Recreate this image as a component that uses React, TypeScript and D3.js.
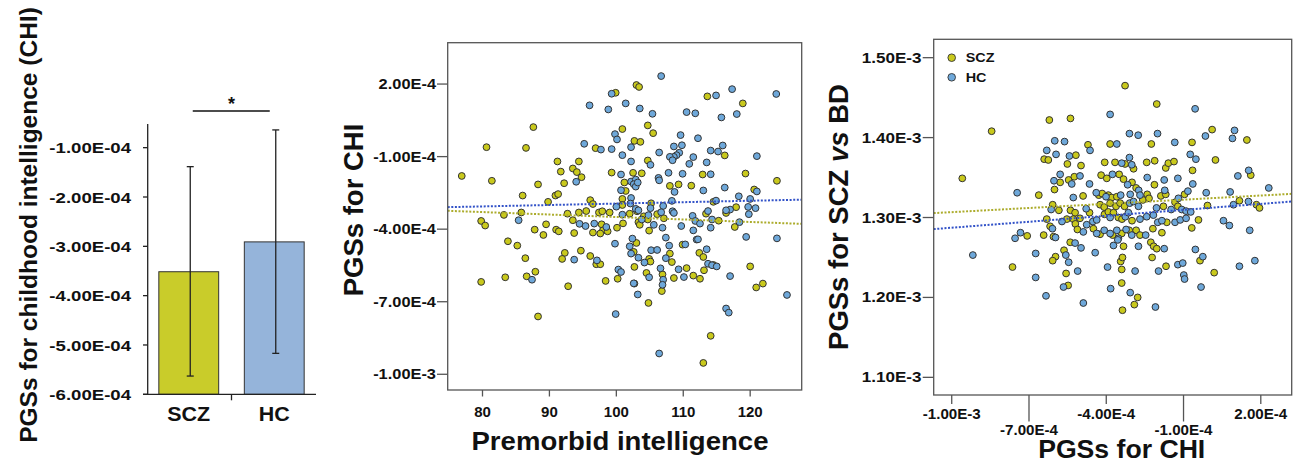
import React from "react";
import * as d3 from "d3";

// ---------- Bar chart data (PGS for CHI, x1e-4) ----------
const barGroups = ["SCZ", "HC"];
const barMeans = [-3.515, -2.91];
const barErrLow = [-5.63, -5.17];
const barErrHigh = [-1.385, -0.64];
const barTicks = [-1, -2, -3, -4, -5, -6];
const barTickLabels = ["-1.00E-04", "-2.00E-04", "-3.00E-04", "-4.00E-04", "-5.00E-04", "-6.00E-04"];

// ---------- Middle scatter: premorbid intelligence vs PGS CHI (x1e-4) ----------
const iqScz: number[][] = [
  [103.0,1.96],[103.4,1.88],[113.6,1.49],[99.9,1.64],[118.9,1.20],[87.6,0.22],[104.7,0.29],[100.9,0.14],[105.5,-0.03],[102.7,-0.35],
  [103.6,-0.39],[80.6,-0.61],[86.5,-0.64],[96.9,-0.65],[116.2,-0.95],[104.7,-1.16],[91.2,-1.20],[93.5,-1.49],[94.1,-1.64],[94.4,-1.20],
  [91.7,-1.62],[76.9,-1.80],[99.3,-1.66],[102.5,-1.67],[103.8,-1.69],[112.9,-1.74],[119.3,-1.70],[81.4,-2.00],[88.3,-2.15],[92.2,-2.10],
  [94.8,-1.85],[101.2,-2.07],[109.3,-2.15],[108.0,-2.21],[111.2,-2.20],[124.0,-2.00],[120.6,-2.36],[101.4,-2.42],[86.0,-2.61],[90.9,-2.61],
  [91.3,-2.55],[100.9,-2.75],[89.8,-2.87],[96.1,-2.80],[96.5,-2.96],[105.2,-2.93],[114.5,-2.87],[100.9,-3.00],[117.9,-3.09],[85.8,-3.31],
  [83.2,-3.41],[92.7,-3.36],[94.4,-3.31],[95.5,-3.25],[97.4,-3.31],[97.9,-3.26],[99.0,-3.31],[102.0,-3.36],[103.1,-3.26],[104.1,-3.47],
  [106.1,-3.38],[107.1,-3.55],[113.4,-3.36],[116.4,-3.33],[115.3,-3.65],[79.8,-3.66],[80.4,-3.85],[89.5,-3.80],[93.5,-3.63],[97.8,-3.80],
  [98.0,-4.05],[98.7,-4.09],[100.1,-3.94],[101.0,-3.76],[103.3,-3.71],[103.5,-3.82],[104.7,-3.60],[117.7,-3.91],[87.8,-4.02],[91.0,-4.02],
  [91.4,-4.09],[89.1,-4.24],[93.7,-4.16],[96.5,-4.14],[97.6,-4.18],[104.9,-4.06],[109.9,-4.64],[83.8,-4.50],[85.2,-4.68],[103.0,-4.57],
  [86.4,-5.20],[94.7,-4.89],[92.3,-4.98],[91.9,-5.23],[96.1,-5.11],[97.0,-5.45],[97.6,-5.45],[102.6,-4.94],[102.7,-5.56],[104.9,-5.23],
  [105.1,-5.34],[108.0,-5.01],[108.3,-5.36],[112.4,-4.98],[113.0,-5.15],[113.1,-5.70],[114.5,-5.48],[106.9,-5.87],[110.5,-5.61],[120.0,-5.54],
  [79.8,-6.18],[83.4,-5.99],[86.6,-5.95],[87.9,-5.76],[92.8,-6.36],[98.4,-6.14],[100.2,-6.05],[102.7,-6.25],[104.5,-5.81],[106.8,-6.56],
  [108.6,-6.02],[111.5,-5.92],[112.5,-6.05],[120.9,-6.41],[121.9,-6.25],[88.3,-7.61],[104.8,-7.05],[114.1,-8.41],[113.0,-9.53]
];
const iqHc: number[][] = [
  [106.7,2.33],[117.3,1.79],[114.9,1.53],[123.9,1.59],[99.3,1.60],[101.4,1.20],[96.0,1.12],[98.8,0.95],[103.5,0.99],[105.4,0.77],
  [110.5,0.84],[111.8,0.79],[118.0,0.76],[115.7,0.62],[99.8,-0.07],[100.1,-0.29],[109.6,-0.11],[112.2,-0.24],[95.2,-0.47],[97.7,-0.71],
  [99.3,-0.69],[102.2,-0.61],[108.6,-0.58],[109.8,-0.53],[114.1,-0.75],[115.2,-0.79],[115.9,-0.54],[106.4,-0.83],[109.4,-0.84],[109.0,-0.94],
  [108.6,-1.01],[108.0,-1.01],[108.4,-1.15],[111.5,-1.02],[121.0,-0.98],[100.9,-0.94],[105.1,-1.34],[102.2,-1.20],[110.9,-1.30],[113.5,-1.24],
  [100.7,-1.74],[107.8,-1.67],[106.3,-1.88],[106.4,-1.98],[109.9,-1.71],[114.1,-1.73],[94.0,-2.04],[102.2,-2.03],[102.9,-1.95],[102.6,-2.14],
  [102.9,-2.24],[103.2,-2.07],[116.2,-2.28],[113.0,-2.40],[108.7,-2.46],[121.0,-2.44],[100.7,-2.39],[102.2,-2.71],[118.3,-2.64],[108.3,-2.83],
  [114.9,-2.82],[120.0,-2.75],[119.7,-3.08],[120.8,-3.13],[100.0,-3.07],[102.1,-2.94],[102.9,-3.16],[105.1,-3.13],[107.0,-3.04],[117.0,-3.19],
  [116.4,-3.22],[85.4,-3.63],[100.9,-3.40],[103.3,-3.22],[104.8,-3.42],[106.7,-3.30],[108.4,-3.26],[108.6,-3.33],[111.4,-3.45],[113.7,-3.25],
  [114.3,-3.60],[119.8,-3.38],[94.5,-3.78],[95.4,-3.87],[96.7,-3.77],[98.5,-3.91],[103.8,-3.60],[105.6,-3.82],[109.7,-3.87],[111.8,-3.66],
  [112.5,-3.77],[114.1,-3.94],[118.4,-3.71],[106.9,-3.94],[111.5,-4.05],[110.3,-4.63],[112.0,-4.43],[112.2,-4.42],[119.4,-4.32],[99.8,-4.60],
  [102.4,-4.39],[102.0,-4.71],[107.4,-4.35],[107.9,-4.68],[124.0,-4.38],[93.7,-5.26],[97.1,-5.29],[102.2,-5.01],[103.3,-5.18],[105.2,-4.87],
  [106.1,-4.86],[107.4,-5.20],[104.2,-5.38],[113.5,-4.83],[113.7,-5.43],[114.3,-5.49],[115.0,-5.54],[106.6,-5.62],[109.3,-5.66],[100.3,-5.67],
  [100.7,-5.77],[87.4,-6.09],[102.6,-6.24],[104.9,-5.99],[107.0,-6.09],[106.9,-6.30],[110.1,-5.98],[117.0,-5.94],[103.2,-6.70],[99.9,-7.51],
  [116.4,-7.28],[116.8,-7.45],[125.5,-6.72],[106.4,-9.14]
];
const iqDomain = [74.8, 127.7];
const iqChiDomain = [-10.65, 3.71];
const iqTicks = [80, 90, 100, 110, 120];
const iqChiTicks = [2, -1, -4, -7, -10];
const iqChiTickLabels = ["2.00E-4", "-1.00E-4", "-4.00E-4", "-7.00E-4", "-1.00E-3"];
// fit lines: [x0, y0, x1, y1]
const iqFitScz = [74.8, -3.24, 127.7, -3.78];
const iqFitHc = [74.8, -3.09, 127.7, -2.78];

// ---------- Right scatter: PGS CHI (x1e-4) vs PGS SCZ vs BD (x1e-3) ----------
const bdScz: number[][] = [
  [-3.27,1.465],[-2.04,1.442],[-6.21,1.422],[-5.39,1.424],[-8.45,1.408],[0.11,1.410],[1.46,1.397],[-4.71,1.391],[-3.85,1.392],[-2.25,1.392],
  [-0.67,1.394],[-5.18,1.378],[0.24,1.372],[-6.41,1.373],[-6.25,1.372],[-5.51,1.367],[-4.98,1.365],[-4.06,1.369],[-3.66,1.369],[-3.27,1.367],
  [-2.94,1.361],[-2.43,1.369],[-2.12,1.371],[-1.69,1.362],[-1.59,1.368],[-1.37,1.370],[-0.65,1.359],[1.61,1.353],[-5.46,1.347],[-5.24,1.351],
  [-5.79,1.344],[-4.20,1.353],[-3.98,1.349],[-3.50,1.354],[-3.33,1.348],[-3.00,1.344],[-2.13,1.341],[-4.90,1.327],[-6.01,1.335],[-6.62,1.328],
  [-4.29,1.328],[-4.16,1.330],[-3.92,1.328],[-3.79,1.325],[-3.59,1.326],[-2.84,1.337],[-2.41,1.329],[-1.88,1.327],[-1.69,1.329],[-0.96,1.329],
  [-1.33,1.319],[-1.22,1.314],[-6.08,1.316],[-5.84,1.309],[-5.39,1.309],[-5.21,1.306],[-5.02,1.299],[-4.65,1.306],[-4.24,1.316],[-4.08,1.313],
  [-3.85,1.318],[-3.62,1.314],[-3.46,1.318],[-3.29,1.314],[-2.58,1.322],[-2.34,1.324],[-1.78,1.314],[-0.07,1.315],[1.17,1.321],[1.83,1.316],
  [1.95,1.312],[-6.31,1.298],[-6.18,1.289],[-5.53,1.298],[-5.28,1.298],[-5.20,1.292],[-5.12,1.285],[-4.50,1.286],[-4.07,1.304],[-3.92,1.307],
  [-3.72,1.306],[-3.53,1.300],[-3.39,1.298],[-3.00,1.296],[-1.65,1.294],[-0.68,1.287],[-0.42,1.297],[-7.07,1.277],[-6.43,1.278],[-6.05,1.276],
  [-4.24,1.279],[-3.75,1.278],[-3.40,1.280],[-3.11,1.284],[-2.84,1.284],[-2.69,1.278],[-2.19,1.286],[-1.84,1.281],[-2.27,1.269],[-5.40,1.269],
  [-3.33,1.264],[-2.16,1.264],[-2.04,1.261],[-5.64,1.259],[-5.97,1.251],[-6.08,1.246],[-3.44,1.245],[-3.37,1.250],[-2.22,1.250],[-0.36,1.246],
  [-1.68,1.239],[-3.40,1.235],[-7.64,1.238],[-5.56,1.230],[0.19,1.231],[-5.48,1.215],[-3.40,1.218],[-2.78,1.200],[-2.91,1.191],[-3.37,1.184],
  [-9.59,1.349]
];
const bdHc: number[][] = [
  [-0.55,1.436],[-3.85,1.429],[0.98,1.409],[-3.10,1.405],[-2.76,1.403],[-2.01,1.405],[-0.15,1.402],[0.90,1.399],[-6.00,1.396],[-5.62,1.395],
  [-4.63,1.384],[-3.59,1.392],[-1.34,1.394],[-6.31,1.384],[-5.95,1.379],[-5.43,1.377],[-0.74,1.379],[-0.52,1.373],[-3.40,1.368],[-3.10,1.375],
  [-3.01,1.366],[1.53,1.359],[-5.79,1.354],[-5.34,1.342],[-5.02,1.352],[-6.03,1.346],[-3.76,1.354],[-3.17,1.341],[-2.41,1.350],[-1.75,1.347],
  [-1.22,1.349],[1.11,1.352],[-4.65,1.342],[-5.28,1.325],[-7.46,1.331],[-4.39,1.331],[-4.01,1.326],[-3.44,1.328],[-3.07,1.329],[-2.74,1.334],
  [-2.69,1.328],[-1.73,1.334],[-1.20,1.324],[-0.83,1.333],[-0.64,1.342],[-0.12,1.331],[0.81,1.332],[2.31,1.337],[-6.14,1.310],[-4.78,1.311],
  [-3.09,1.318],[-2.94,1.320],[-2.75,1.314],[-2.05,1.312],[-1.48,1.310],[-1.07,1.310],[-0.90,1.308],[-0.72,1.307],[0.94,1.316],[1.52,1.320],
  [-6.09,1.286],[-5.72,1.295],[-4.76,1.291],[-4.52,1.295],[-4.37,1.297],[-3.85,1.300],[-3.26,1.301],[-3.14,1.306],[-2.69,1.298],[-2.43,1.301],
  [-2.17,1.303],[-2.00,1.294],[-1.84,1.296],[-1.33,1.294],[-1.13,1.297],[-0.90,1.299],[0.55,1.296],[0.78,1.290],[1.57,1.284],[-7.33,1.281],
  [-7.54,1.274],[-5.97,1.275],[-4.89,1.282],[-4.37,1.280],[-4.08,1.284],[-3.85,1.280],[-3.59,1.284],[-3.53,1.274],[-3.23,1.285],[-3.01,1.278],
  [-2.47,1.278],[-2.75,1.264],[-5.21,1.268],[-4.98,1.262],[-3.72,1.265],[-3.55,1.272],[-1.75,1.261],[-9.18,1.253],[-6.74,1.255],[-5.57,1.253],
  [-5.46,1.244],[-4.43,1.256],[-2.88,1.233],[-0.54,1.260],[-0.25,1.251],[-1.97,1.233],[-1.22,1.241],[-1.03,1.243],[-3.95,1.238],[-0.99,1.228],
  [-0.96,1.223],[1.17,1.239],[1.77,1.246],[-5.11,1.233],[-6.74,1.225],[-5.66,1.213],[-3.83,1.211],[-0.32,1.213],[-6.34,1.202],[-3.07,1.206],
  [-4.89,1.193],[-2.09,1.188]
];
const bdXDomain = [-10.7, 3.2];
const bdYDomain = [1.0779, 1.523];
const bdXTicks = [-10, -7, -4, -1, 2];
const bdXTickLabels = ["-1.00E-3", "-7.00E-4", "-4.00E-4", "-1.00E-4", "2.00E-4"];
const bdYTicks = [1.5, 1.4, 1.3, 1.2, 1.1];
const bdYTickLabels = ["1.50E-3", "1.40E-3", "1.30E-3", "1.20E-3", "1.10E-3"];
const bdFitScz = [-10.7, 1.3055, 3.2, 1.3296];
const bdFitHc = [-10.7, 1.2855, 3.2, 1.32];

const legendItems = ["SCZ", "HC"];

const FONT = '"Liberation Sans", Arial, Helvetica, sans-serif';
const SCZ_FILL = "#c9c91c";
const HC_FILL = "#6ea8da";
const SCZ_BAR = "#c9cc2a";
const HC_BAR = "#95b4da";
const SCZ_LINE = "#acac2c";
const HC_LINE = "#3252c8";
const AXIS = "#555";

type LP = { x: number; y: number; size: number; sx?: number; anchor?: string; rotate?: number; children: any };
const Label = ({ x, y, size, sx = 1, anchor = "middle", rotate = 0, children }: LP) => (
  <text
    transform={`translate(${x},${y}) rotate(${rotate}) scale(${sx},1)`}
    fontSize={size}
    fontWeight="bold"
    fontFamily={FONT}
    textAnchor={anchor}
    fill="#111"
  >
    {children}
  </text>
);

function BarChart() {
  const y = d3.scaleLinear().domain([-6, -0.52]).range([394.3, 124]);
  const x = d3.scaleBand().domain(barGroups).range([146, 317]).paddingInner(0.3).paddingOuter(0.15);
  const bw = x.bandwidth();
  const base = y(-6);
  const cx = (g: string) => (x(g) as number) + bw / 2;
  const mid = (cx("SCZ") + cx("HC")) / 2;
  return (
    <g>
      <Label x={37} y={225} size={24.5} rotate={-90}>PGSs for childhood intelligence (CHI)</Label>
      {barGroups.map((g, i) => (
        <rect key={g} x={x(g)} y={y(barMeans[i])} width={bw} height={base - y(barMeans[i])}
          fill={i === 0 ? SCZ_BAR : HC_BAR} stroke="#333" strokeWidth={1} />
      ))}
      {barGroups.map((g, i) => {
        const c = cx(g) + 1.5;
        return (
          <g key={g} stroke="#222" strokeWidth={1.3}>
            <line x1={c} x2={c} y1={y(barErrHigh[i])} y2={y(barErrLow[i])} />
            <line x1={c - 3.5} x2={c + 3.5} y1={y(barErrHigh[i])} y2={y(barErrHigh[i])} />
            <line x1={c - 3.5} x2={c + 3.5} y1={y(barErrLow[i])} y2={y(barErrLow[i])} />
          </g>
        );
      })}
      <line x1={147.7} x2={147.7} y1={y(-0.52)} y2={base} stroke="#222" strokeWidth={1.3} />
      <line x1={143} x2={316} y1={base} y2={base} stroke="#222" strokeWidth={1.3} />
      <line x1={mid} x2={mid} y1={base} y2={base + 6} stroke="#222" strokeWidth={1.3} />
      {barTicks.map((t, i) => (
        <g key={t}>
          <line x1={143} x2={147.7} y1={y(t)} y2={y(t)} stroke="#222" strokeWidth={1.3} />
          <Label x={131} y={y(t) + 5.6} size={15.5} sx={1.2} anchor="end">{barTickLabels[i]}</Label>
        </g>
      ))}
      {barGroups.map((g) => (
        <Label key={g} x={cx(g)} y={420.5} size={19.5} sx={1.1}>{g}</Label>
      ))}
      <line x1={cx("SCZ") + 4} x2={cx("HC") - 4.5} y1={111} y2={111} stroke="#111" strokeWidth={1.6} />
      <Label x={mid} y={110} size={18}>*</Label>
    </g>
  );
}

function Dots({ data, x, y, fill }: { data: number[][]; x: any; y: any; fill: string }) {
  return (
    <g>
      {data.map((d, i) => (
        <circle key={i} cx={x(d[0])} cy={y(d[1])} r={3.4} fill={fill} stroke="#333" strokeWidth={1} />
      ))}
    </g>
  );
}

function FitLine({ f, x, y, color }: { f: number[]; x: any; y: any; color: string }) {
  return (
    <line x1={x(f[0])} y1={y(f[1])} x2={x(f[2])} y2={y(f[3])} stroke={color} strokeWidth={2} strokeDasharray="2,1.6" />
  );
}

function MiddleChart() {
  const L = 447.7, R = 801.7, T = 42.7, B = 390;
  const x = d3.scaleLinear().domain(iqDomain).range([L, R]);
  const y = d3.scaleLinear().domain(iqChiDomain).range([B, T]);
  return (
    <g>
      <Dots data={iqScz} x={x} y={y} fill={SCZ_FILL} />
      <Dots data={iqHc} x={x} y={y} fill={HC_FILL} />
      <FitLine f={iqFitHc} x={x} y={y} color={HC_LINE} />
      <FitLine f={iqFitScz} x={x} y={y} color={SCZ_LINE} />
      <rect x={L} y={T} width={R - L} height={B - T} fill="none" stroke={AXIS} strokeWidth={1.3} />
      {iqChiTicks.map((t, i) => (
        <g key={t}>
          <line x1={437} x2={L} y1={y(t)} y2={y(t)} stroke={AXIS} strokeWidth={1.3} />
          <Label x={436} y={y(t) + 5} size={14.5} sx={1.13} anchor="end">{iqChiTickLabels[i]}</Label>
        </g>
      ))}
      {iqTicks.map((t) => (
        <g key={t}>
          <line x1={x(t)} x2={x(t)} y1={B} y2={B + 6.5} stroke={AXIS} strokeWidth={1.3} />
          <Label x={x(t)} y={417.3} size={15}>{t}</Label>
        </g>
      ))}
      <Label x={620} y={450} size={26} sx={1.06}>Premorbid intelligence</Label>
      <Label x={363} y={210} size={27.5} rotate={-90}>PGSs for CHI</Label>
    </g>
  );
}

function RightChart() {
  const L = 933.7, R = 1291.7, T = 39.3, B = 395;
  const x = d3.scaleLinear().domain(bdXDomain).range([L, R]);
  const y = d3.scaleLinear().domain(bdYDomain).range([B, T]);
  return (
    <g>
      <Dots data={bdScz} x={x} y={y} fill={SCZ_FILL} />
      <Dots data={bdHc} x={x} y={y} fill={HC_FILL} />
      <FitLine f={bdFitHc} x={x} y={y} color={HC_LINE} />
      <FitLine f={bdFitScz} x={x} y={y} color={SCZ_LINE} />
      <rect x={L} y={T} width={R - L} height={B - T} fill="none" stroke={AXIS} strokeWidth={1.3} />
      {bdYTicks.map((t, i) => (
        <g key={t}>
          <line x1={922.7} x2={L} y1={y(t)} y2={y(t)} stroke={AXIS} strokeWidth={1.3} />
          <Label x={921.5} y={y(t) + 5} size={14} sx={1.22} anchor="end">{bdYTickLabels[i]}</Label>
        </g>
      ))}
      {bdXTicks.map((t, i) => {
        const low = i % 2 === 1;
        return (
          <g key={t}>
            <line x1={x(t)} x2={x(t)} y1={B} y2={low ? 421.5 : 404} stroke={AXIS} strokeWidth={1.3} />
            <Label x={x(t)} y={low ? 435 : 419.3} size={14} sx={1.08}>{bdXTickLabels[i]}</Label>
          </g>
        );
      })}
      <Label x={1121.7} y={458.3} size={25.6} sx={1.04}>PGSs for CHI</Label>
      <text transform="translate(848,217) rotate(-90)" fontSize={27.5} fontWeight="bold" fontFamily={FONT}
        textAnchor="middle" fill="#111">
        PGSs for SCZ <tspan fontStyle="italic">vs</tspan> BD
      </text>
      {legendItems.map((g, i) => (
        <g key={g}>
          <circle cx={951.7} cy={57.7 + i * 19.6} r={3.8} fill={i === 0 ? SCZ_FILL : HC_FILL} stroke="#333" strokeWidth={0.9} />
          <Label x={965.7} y={57.7 + i * 19.6 + 4.3} size={12} sx={1.2} anchor="start">{g}</Label>
        </g>
      ))}
    </g>
  );
}

export default function App() {
  return (
    <svg width={1293} height={466} style={{ position: "absolute", left: 0, top: 0, background: "#fff" }}>
      <rect x={0} y={0} width={1293} height={466} fill="#fff" />
      <BarChart />
      <MiddleChart />
      <RightChart />
    </svg>
  );
}
